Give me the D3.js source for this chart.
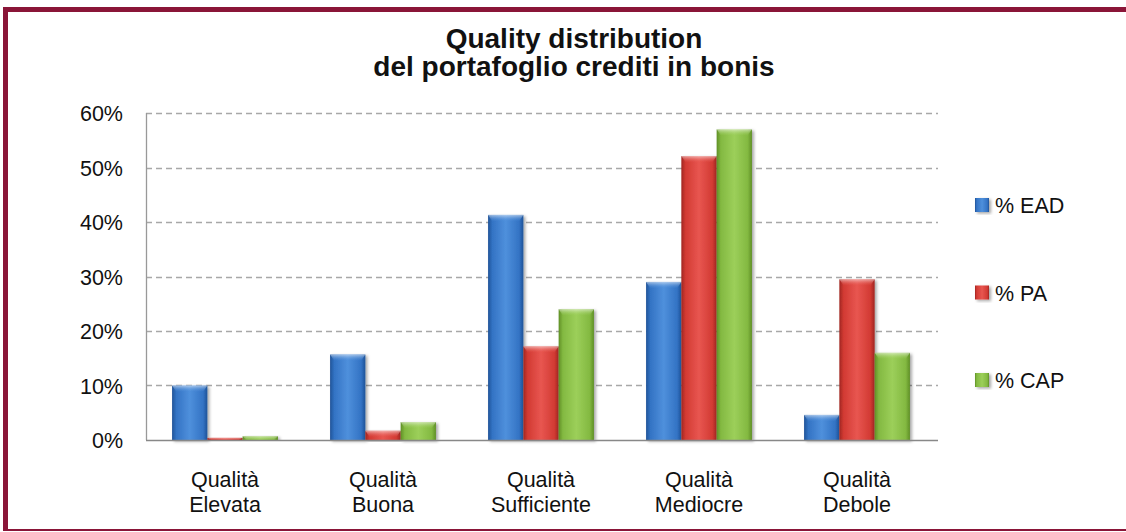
<!DOCTYPE html>
<html>
<head>
<meta charset="utf-8">
<script src="https://cdn.jsdelivr.net/npm/d3@7"></script>
<style>
  body { margin: 0; background: #fff; }
  text { font-family: "Liberation Sans", Arial, Helvetica, sans-serif; fill: #111; }
</style>
</head>
<body>
<div id="chart"></div>
<script>
;(function () {

    // Data (share of total, 0..1)
    var categories = ['Qualità Elevata', 'Qualità Buona', 'Qualità Sufficiente', 'Qualità Mediocre', 'Qualità Debole'];
    var seriesNames = ['% EAD', '% PA', '% CAP'];
    var ead = [0.100, 0.157, 0.413, 0.290, 0.046];
    var pa  = [0.004, 0.017, 0.172, 0.521, 0.295];
    var cap = [0.007, 0.033, 0.240, 0.570, 0.160];
    var yTicks = [0, 0.1, 0.2, 0.3, 0.4, 0.5, 0.6];
    var titleLines = ['Quality distribution', 'del portafoglio crediti in bonis'];

    var seriesValues = [ead, pa, cap];
    // colours: edge, mid, light
    var palette = [
        ['#1f5398', '#3373c4', '#4f90dc'],
        ['#a02520', '#d23a33', '#e85650'],
        ['#5f8f26', '#83b941', '#9ccf5a']
    ];

    var width = 1126, height = 532;
    var left = 146, right = 936, top = 113, bottom = 440;

    var svg = d3.select('#chart').append('svg')
        .attr('width', width)
        .attr('height', height);

    var defs = svg.append('defs');

    var shadow = defs.append('filter').attr('id', 'shadow')
        .attr('x', '-20%').attr('y', '-10%').attr('width', '150%').attr('height', '130%');
    shadow.append('feDropShadow')
        .attr('dx', 2).attr('dy', 1.5).attr('stdDeviation', 1.8)
        .attr('flood-color', '#000').attr('flood-opacity', 0.35);

    palette.forEach(function (c, i) {
        var g = defs.append('linearGradient').attr('id', 'grad' + i)
            .attr('x1', '0%').attr('x2', '100%').attr('y1', '0%').attr('y2', '0%');
        g.append('stop').attr('offset', '0%').attr('stop-color', c[0]);
        g.append('stop').attr('offset', '12%').attr('stop-color', c[1]);
        g.append('stop').attr('offset', '50%').attr('stop-color', c[2]);
        g.append('stop').attr('offset', '88%').attr('stop-color', c[1]);
        g.append('stop').attr('offset', '100%').attr('stop-color', c[0]);

        var cg = defs.append('linearGradient').attr('id', 'cap' + i)
            .attr('x1', '0%').attr('x2', '0%').attr('y1', '0%').attr('y2', '100%');
        cg.append('stop').attr('offset', '0%').attr('stop-color', '#fff').attr('stop-opacity', 0.55);
        cg.append('stop').attr('offset', '100%').attr('stop-color', c[2]).attr('stop-opacity', 0.1);
    });

    // frame
    svg.append('line').attr('x1', 3).attr('x2', width).attr('y1', 9.5).attr('y2', 9.5)
        .attr('stroke', '#8a1538').attr('stroke-width', 5);
    svg.append('line').attr('x1', 5.5).attr('x2', 5.5).attr('y1', 7).attr('y2', 531)
        .attr('stroke', '#8a1538').attr('stroke-width', 5);
    svg.append('line').attr('x1', 3).attr('x2', width).attr('y1', 530).attr('y2', 530)
        .attr('stroke', '#8a1538').attr('stroke-width', 2);

    // title
    svg.append('text')
        .attr('x', 574).attr('y', 48)
        .attr('text-anchor', 'middle')
        .style('font-size', '28px').style('font-weight', 'bold')
        .selectAll('tspan')
        .data(titleLines)
        .enter()
        .append('tspan')
        .attr('x', 574)
        .attr('dy', function (d, i) { return i === 0 ? 0 : 28; })
        .text(function (d) { return d; });

    var x = d3.scaleBand()
        .domain(categories)
        .range([left, right])
        .paddingInner(0.33)
        .paddingOuter(0.165);

    var x1 = d3.scaleBand()
        .domain(seriesNames)
        .range([0, x.bandwidth()]);

    var y = d3.scaleLinear()
        .domain([0, 0.6])
        .range([bottom, top]);

    // grid
    svg.append('g').selectAll('line')
        .data(yTicks.slice(1))
        .enter()
        .append('line')
        .attr('x1', left).attr('x2', right + 2)
        .attr('y1', function (d) { return Math.round(y(d)) + 0.5; })
        .attr('y2', function (d) { return Math.round(y(d)) + 0.5; })
        .attr('stroke', '#a8a8a8')
        .attr('stroke-width', 1.3)
        .attr('stroke-dasharray', '6,4');

    // y axis labels
    var yAxis = svg.append('g')
        .attr('transform', 'translate(' + left + ',0)')
        .call(d3.axisLeft(y).tickValues(yTicks).tickFormat(d3.format('.0%')).tickSize(0).tickPadding(23));
    yAxis.select('.domain').remove();
    yAxis.selectAll('text')
        .style('font-size', '21.5px')
        .attr('fill', '#111')
        .attr('dy', '0.36em');

    svg.append('line')
        .attr('x1', left + 0.5).attr('x2', left + 0.5)
        .attr('y1', top).attr('y2', bottom)
        .attr('stroke', '#999').attr('stroke-width', 1.3);

    // bars
    var groups = svg.append('g').selectAll('g')
        .data(categories)
        .enter()
        .append('g')
        .attr('transform', function (d) { return 'translate(' + x(d) + ',0)'; });

    var bars = groups.selectAll('g')
        .data(function (d, ci) {
            return seriesNames.map(function (s, si) {
                return { series: s, si: si, value: seriesValues[si][ci] };
            });
        })
        .enter()
        .append('g')
        .attr('filter', 'url(#shadow)');

    bars.append('rect')
        .attr('x', function (d) { return x1(d.series); })
        .attr('y', function (d) { return y(d.value); })
        .attr('width', x1.bandwidth())
        .attr('height', function (d) { return bottom - y(d.value); })
        .attr('fill', function (d) { return 'url(#grad' + d.si + ')'; });

    bars.append('path')
        .attr('d', function (d) {
            var h = Math.min(6, bottom - y(d.value));
            var x0 = x1(d.series), w = x1.bandwidth(), t = y(d.value);
            return 'M' + x0 + ',' + t + 'L' + (x0 + w) + ',' + t +
                'L' + (x0 + w - 4) + ',' + (t + h) + 'L' + (x0 + 4) + ',' + (t + h) + 'Z';
        })
        .attr('fill', function (d) { return 'url(#cap' + d.si + ')'; });

    // baseline
    svg.append('line')
        .attr('x1', left).attr('x2', right + 2)
        .attr('y1', bottom + 0.5).attr('y2', bottom + 0.5)
        .attr('stroke', '#888').attr('stroke-width', 1.3);

    // x labels
    var xLabels = svg.append('g').selectAll('text')
        .data(categories)
        .enter()
        .append('text')
        .attr('text-anchor', 'middle')
        .style('font-size', '21.5px')
        .attr('x', function (d) { return x(d) + x.bandwidth() / 2; })
        .attr('y', 487);
    xLabels.selectAll('tspan')
        .data(function (d) { return d.split(' '); })
        .enter()
        .append('tspan')
        .attr('x', function () { var p = this.parentNode; return d3.select(p).attr('x'); })
        .attr('dy', function (d, i) { return i === 0 ? 0 : 25; })
        .text(function (d) { return d; });

    // legend
    var legend = svg.append('g').selectAll('g')
        .data(seriesNames)
        .enter()
        .append('g')
        .attr('transform', function (d, i) { return 'translate(975,' + (198 + i * 87.5) + ')'; });

    legend.append('rect')
        .attr('width', 14).attr('height', 14)
        .attr('fill', function (d, i) { return 'url(#grad' + i + ')'; })
        .attr('filter', 'url(#shadow)');

    legend.append('text')
        .attr('x', 20).attr('y', 15)
        .style('font-size', '21.5px')
        .text(function (d) { return d; });

})();
</script>
</body>
</html>
